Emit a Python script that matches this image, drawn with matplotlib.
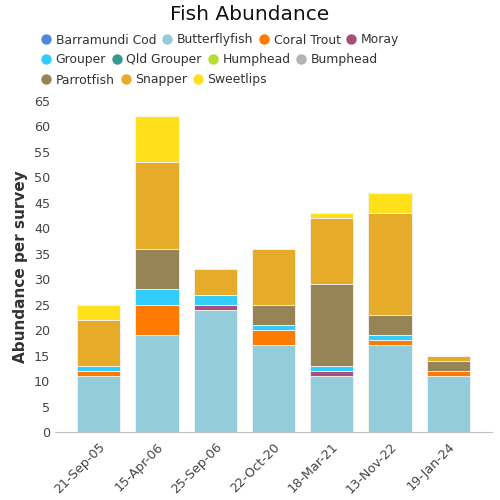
import numpy as np
import matplotlib
matplotlib.use("Agg")
import matplotlib.pyplot as plt
from matplotlib.lines import Line2D

dates = ["21-Sep-05", "15-Apr-06", "25-Sep-06", "22-Oct-20", "18-Mar-21", "13-Nov-22", "19-Jan-24"]

species = ["Barramundi Cod", "Butterflyfish", "Coral Trout", "Moray",
           "Grouper", "Qld Grouper", "Humphead", "Bumphead",
           "Parrotfish", "Snapper", "Sweetlips"]
colors = ["#5088d8", "#93ccdb", "#ff7a00", "#a44f7c",
          "#33ccff", "#339991", "#b3dd33", "#b3b3b3",
          "#968456", "#e7ab2a", "#ffe01a"]

barramundi_cod = [0, 0, 0, 0, 0, 0, 0]
butterflyfish = [11, 19, 24, 17, 11, 17, 11]
coral_trout = [1, 6, 0, 3, 0, 1, 1]
moray = [0, 0, 1, 0, 1, 0, 0]
grouper = [1, 3, 2, 1, 1, 1, 0]
qld_grouper = [0, 0, 0, 0, 0, 0, 0]
humphead = [0, 0, 0, 0, 0, 0, 0]
bumphead = [0, 0, 0, 0, 0, 0, 0]
parrotfish = [0, 8, 0, 4, 16, 4, 2]
snapper = [9, 17, 5, 11, 13, 20, 1]
sweetlips = [3, 9, 0, 0, 1, 4, 0]

series = [barramundi_cod, butterflyfish, coral_trout, moray, grouper, qld_grouper,
          humphead, bumphead, parrotfish, snapper, sweetlips]

fig = plt.figure(figsize=(5, 5), dpi=100)
ax = fig.add_axes([0.11, 0.136, 0.874, 0.662])

x = np.arange(len(dates))
bottom = np.zeros(len(dates))
for name, vals, c in zip(species, series, colors):
    vals = np.array(vals, dtype=float)
    ax.bar(x, vals, 0.74, bottom=bottom, color=c, edgecolor="#f4f4f4", linewidth=0.6, label=name)
    bottom += vals

ax.set_xlim(-0.75, 6.75)
ax.set_ylim(0, 65)
ax.set_yticks(range(0, 66, 5))
ax.set_xticks(x)
ax.set_xticklabels(dates, rotation=45, ha="right", rotation_mode="anchor")
ax.tick_params(axis="both", length=0, labelsize=9.2, labelcolor="#444444")
ax.tick_params(axis="x", pad=6)
for s in ["top", "right", "left"]:
    ax.spines[s].set_visible(False)
ax.spines["bottom"].set_color("#c0c0c0")
ax.set_ylabel("Abundance per survey", fontsize=11, fontweight="bold", color="#333333", labelpad=4)

fig.text(0.5, 0.972, "Fish Abundance", ha="center", va="center", fontsize=14.5, color="#111111")

rows = [species[0:4], species[4:8], species[8:11]]
row_y = [0.92, 0.88, 0.84]
for names, yy in zip(rows, row_y):
    handles = [Line2D([], [], marker="o", linestyle="", markersize=7.5,
                      markerfacecolor=colors[species.index(n)], markeredgewidth=0) for n in names]
    leg = fig.legend(handles, names, loc="center left", bbox_to_anchor=(0.083, yy),
                     ncol=len(names), frameon=False, fontsize=8.9, handlelength=0.75,
                     handletextpad=0.4, columnspacing=0.5, borderpad=0, borderaxespad=0)
    for t in leg.get_texts():
        t.set_color("#333333")

fig.savefig("out.png", dpi=100)
